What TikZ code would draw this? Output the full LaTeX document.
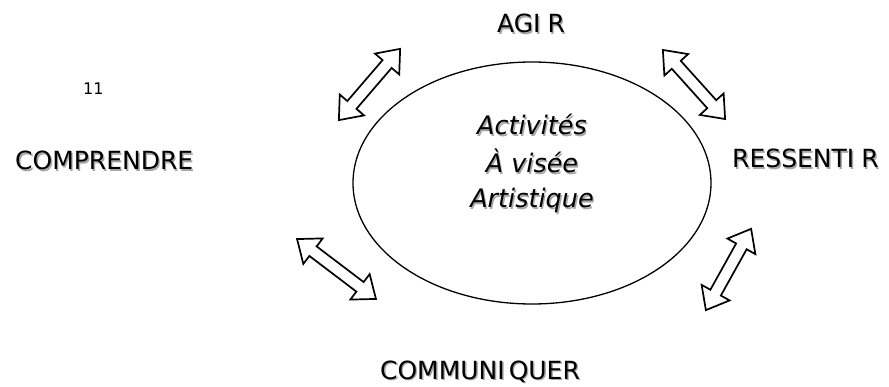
\documentclass[tikz,border=0pt]{standalone}
\usepackage{fontspec}
\setmainfont{DejaVu Sans}
\usetikzlibrary{shapes.geometric}
\newcommand\shd[1]{\leavevmode\rlap{\kern1.4pt\raisebox{-1.4pt}{\textcolor{black!35}{#1}}}#1}
\tikzset{
  lbl/.style={inner sep=0pt, font=\fontsize{25}{29}\selectfont},
  itl/.style={inner sep=0pt, font=\fontsize{25.5}{30}\selectfont\itshape},
  pics/dblarrow/.style={code={
    \draw[line width=1.7pt, line join=miter, fill=white]
      ({#1/2},0) -- ({#1/2-20},16) -- ({#1/2-20},6) -- ({-#1/2+20},6) -- ({-#1/2+20},16)
      -- ({-#1/2},0) -- ({-#1/2+20},-16) -- ({-#1/2+20},-6) -- ({#1/2-20},-6) -- ({#1/2-20},-16) -- cycle;
  }}
}
\begin{document}
\begin{tikzpicture}[x=1pt,y=1pt]
\useasboundingbox (0,0) rectangle (889,386);
\node[draw, ellipse, line width=1.3pt, minimum width=358, minimum height=242, inner sep=0pt] (ell) at (532,203) {};
\node[itl, anchor=base] (t1) at (532,251) {\shd{Activités}};
\node[itl, anchor=base] (t2) at (532,213) {\shd{À visée}};
\node[itl, anchor=base] (t3) at (532,178) {\shd{Artistique}};
\node[lbl, anchor=base] (agir) at (531,353) {\shd{AGI\kern7pt R}};
\node[lbl, anchor=base west] (comp) at (15,216) {\shd{COMPRENDRE}};
\node[lbl, anchor=base west] (ress) at (732,218) {\shd{RESSENTI\kern7pt R}};
\node[lbl, anchor=base] (comm) at (480,7) {\shd{COMMUNI\kern4pt QUER}};
\node[inner sep=0pt, anchor=base west, font=\fontsize{16}{19}\selectfont] (num) at (83,291) {11};
\pic[rotate=49.3] at (369.5,301.5) {dblarrow=94};
\pic[rotate=-48] at (694,301.5) {dblarrow=93};
\pic[rotate=-37.2] at (336.5,117) {dblarrow=99};
\pic[rotate=60.9] at (728.5,116.5) {dblarrow=93};
\end{tikzpicture}
\end{document}
